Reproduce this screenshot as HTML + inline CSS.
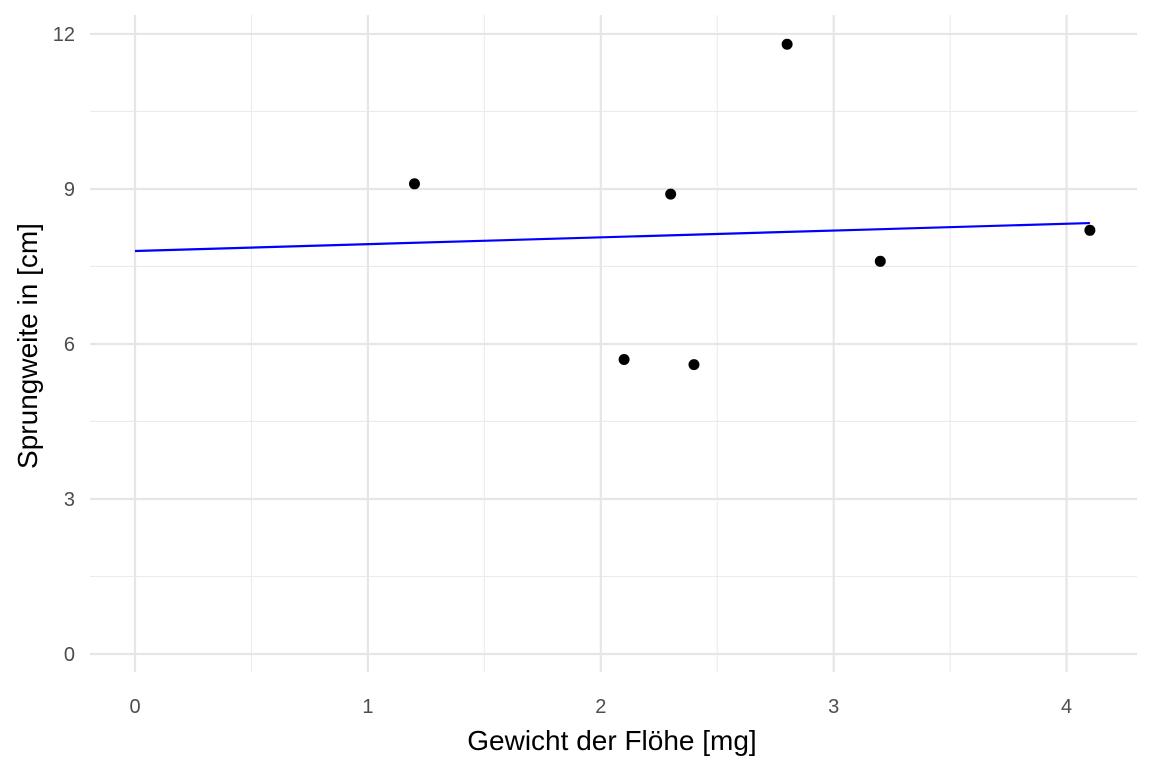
<!DOCTYPE html>
<html><head><meta charset="utf-8"><style>
body{margin:0;background:#fff;}
svg{display:block;font-family:"Liberation Sans",sans-serif;}
</style></head><body>
<svg id="chart" width="1152" height="768">
<g id="grid"></g>
<g id="axes"></g>
<g id="marks"></g>
<text x="612" y="750" text-anchor="middle" font-size="28" fill="#000">Gewicht der Flöhe [mg]</text>
<text transform="translate(37,346) rotate(-90)" text-anchor="middle" font-size="28" fill="#000">Sprungweite in [cm]</text>
</svg>
<script>
const xVals=[1.2,2.1,2.3,2.4,2.8,3.2,4.1];
const yVals=[9.1,5.7,8.9,5.6,11.8,7.6,8.2];
const lineX=[0,4.1];
const lineY=[7.8,8.34];
const xTicks=[0,1,2,3,4];
const yTicks=[0,3,6,9,12];
const xMinor=[0.5,1.5,2.5,3.5];
const yMinor=[1.5,4.5,7.5,10.5];

const NS="http://www.w3.org/2000/svg";
const L=90,R=1137,T=15,B=672;
const sx=v=>135+v*232.9;
const sy=v=>654-v*51.67;
function mk(tag,attrs,parent){const e=document.createElementNS(NS,tag);for(const k in attrs)e.setAttribute(k,attrs[k]);parent.appendChild(e);return e;}
const grid=document.getElementById('grid'),axes=document.getElementById('axes'),marks=document.getElementById('marks');
xMinor.forEach(v=>{const l=mk('line',{x1:sx(v),x2:sx(v),y1:T,y2:B,stroke:'#ebebeb','stroke-width':1.1},grid);

});
yMinor.forEach(v=>{const l=mk('line',{x1:L,x2:R,y1:sy(v),y2:sy(v),stroke:'#ebebeb','stroke-width':1.1},grid);

});
xTicks.forEach(v=>{const l=mk('line',{x1:sx(v),x2:sx(v),y1:T,y2:B,stroke:'#e6e6e6','stroke-width':2.2},grid);


const t=mk('text',{x:sx(v),y:713,'text-anchor':'middle','font-size':20,fill:'#4d4d4d'},axes);t.textContent=v;

});
yTicks.forEach(v=>{const l=mk('line',{x1:L,x2:R,y1:sy(v),y2:sy(v),stroke:'#e6e6e6','stroke-width':2.2},grid);


const t=mk('text',{x:75,y:sy(v)+7,'text-anchor':'end','font-size':20,fill:'#4d4d4d'},axes);t.textContent=v;

});
const ln=mk('line',{x1:sx(lineX[0]),y1:sy(lineY[0]),x2:sx(lineX[1]),y2:sy(lineY[1]),stroke:'#0000ff','stroke-width':2.2},marks);


xVals.forEach((x,i)=>{const c=mk('circle',{cx:sx(x),cy:sy(yVals[i]),r:5.5,fill:'#000'},marks);

});
</script>
</body></html>
